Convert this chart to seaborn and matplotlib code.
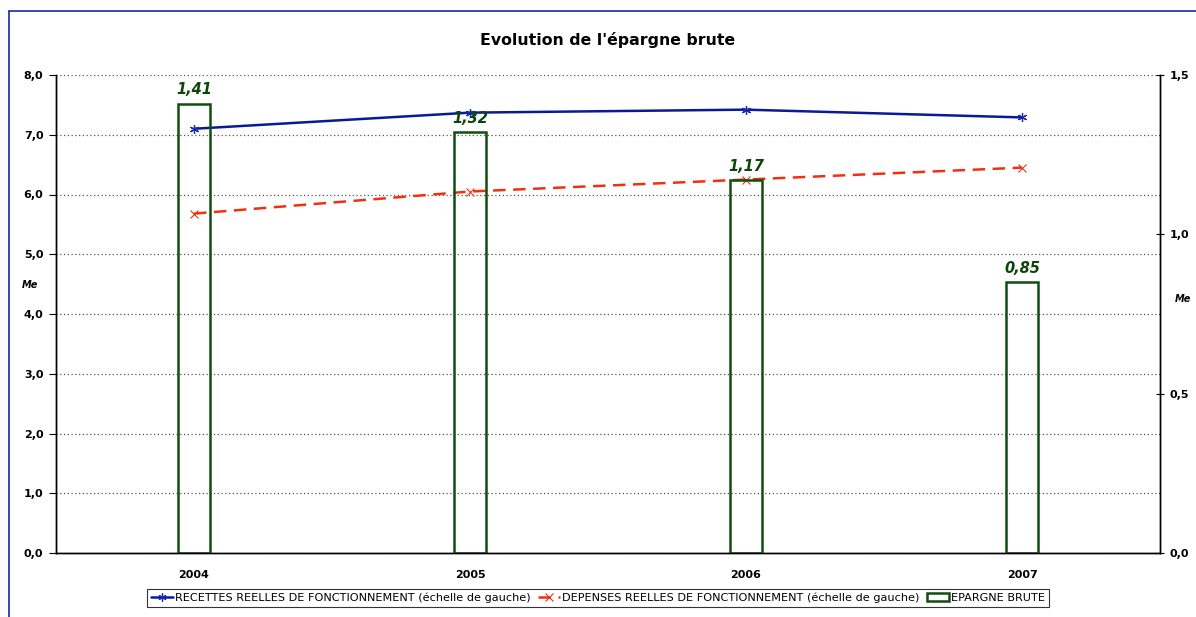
import numpy as np
import pandas as pd
import matplotlib
matplotlib.use("Agg")
import matplotlib.pyplot as plt
from matplotlib.lines import Line2D
from matplotlib.ticker import FuncFormatter, FixedLocator
import seaborn as sns

years = ["2004", "2005", "2006", "2007"]
recettes = [7.10, 7.37, 7.42, 7.29]
depenses = [5.68, 6.05, 6.25, 6.45]
epargne = [1.41, 1.32, 1.17, 0.85]
epargne_labels = ["1,41", "1,32", "1,17", "0,85"]

lab_rec = "RECETTES REELLES DE FONCTIONNEMENT (échelle de gauche)"
lab_dep = "DEPENSES REELLES DE FONCTIONNEMENT (échelle de gauche)"
lab_ep = "EPARGNE BRUTE"

sns.set_theme(style="white")
plt.rcParams['font.family'] = ['DejaVu Sans']
plt.rcParams['text.color'] = 'black'
plt.rcParams['axes.labelcolor'] = 'black'
plt.rcParams['xtick.color'] = 'black'
plt.rcParams['ytick.color'] = 'black'

W, H = 1196, 617
fig = plt.figure(figsize=(W / 100, H / 100), dpi=100)
ax = fig.add_axes([56 / W, 1 - 553 / H, (1160 - 56) / W, (553 - 75) / H])
ax2 = ax.twinx()

pos = np.arange(len(years))
df = pd.DataFrame({"pos": pos, "year": years, "rec": recettes, "dep": depenses, "ep": epargne})

# lines on left axis
sns.lineplot(data=df, x="pos", y="rec", ax=ax, color="#0A1A96", linewidth=1.8,
             marker=(6, 2, 0), markersize=6.5, markeredgecolor="#1A2AB0",
             markeredgewidth=0.9, label=lab_rec, zorder=5)
sns.lineplot(data=df, x="pos", y="dep", ax=ax, color="#F03010", linewidth=1.8,
             marker="x", markersize=6, markeredgecolor="#F03010",
             markeredgewidth=0.8, label=lab_dep, zorder=5)
ax.lines[1].set_linestyle((0, (5, 3)))

# bars on right axis
sns.barplot(data=df, x="year", y="ep", ax=ax2, width=0.115, fill=False,
            color="#0F4F10", linewidth=1.8, label=lab_ep)
for p, v, t in zip(pos, epargne, epargne_labels):
    ax2.text(p, v + 0.02, t, ha="center", va="bottom", color="#0B450B",
             fontsize=10.5, fontweight="bold", fontstyle="italic")

ax.set_xlim(-0.5, 3.5)
ax2.set_xlim(-0.5, 3.5)
ax.set_ylim(0, 8)
ax2.set_ylim(0, 1.5)

comma1 = FuncFormatter(lambda v, p: f"{v:.1f}".replace(".", ","))
ax.yaxis.set_major_locator(FixedLocator(np.arange(0, 8.01, 1)))
ax.yaxis.set_major_formatter(comma1)
ax2.yaxis.set_major_locator(FixedLocator([0, 0.5, 1.0, 1.5]))
ax2.yaxis.set_major_formatter(comma1)

ax.set_xticks(pos)
ax.set_xticklabels(years)
ax.set_xticks([0.5, 1.5, 2.5], minor=True)
ax.tick_params(axis="x", which="major", length=0, pad=12, labelsize=8)
ax.tick_params(axis="x", which="minor", length=6, direction="inout", width=0.8, color="black")
for lbl in ax.get_xticklabels():
    lbl.set_fontweight("bold")
ax2.set_xlabel("")
ax2.tick_params(axis="x", which="both", length=0, labelbottom=False)

ax.tick_params(axis="y", which="major", left=True, length=5, direction="out",
               width=0.8, color="black", labelsize=8, pad=4)
ax2.tick_params(axis="y", which="major", right=True, length=6, direction="inout",
                width=0.8, color="black", labelsize=8, pad=4)
for lbl in ax.get_yticklabels() + ax2.get_yticklabels():
    lbl.set_fontweight("bold")

ax.set_xlabel("")
ax.set_ylabel("")
ax2.set_ylabel("")

ax.yaxis.grid(True, linestyle=(0, (1, 2)), color="#555555", linewidth=0.9)
ax.set_axisbelow(True)
ax2.grid(False)

for a in (ax, ax2):
    a.spines["top"].set_visible(False)
    for s in ("left", "right", "bottom"):
        a.spines[s].set_color("black")
        a.spines[s].set_linewidth(1.0)

# unit labels
fig.text(30 / W, 1 - 285 / H, "Me", ha="center", va="center", fontsize=7,
         fontweight="bold", fontstyle="italic")
fig.text(1183 / W, 1 - 299 / H, "Me", ha="center", va="center", fontsize=7,
         fontweight="bold", fontstyle="italic")

# title
fig.text(608 / W, 1 - 40 / H, "Evolution de l'épargne brute", ha="center", va="center",
         fontsize=11.3, fontweight="bold")

# legend
h1, l1 = ax.get_legend_handles_labels()
h2, l2 = ax2.get_legend_handles_labels()
for a in (ax, ax2):
    if a.get_legend() is not None:
        a.get_legend().remove()
leg = fig.legend(h1 + h2, l1 + l2, loc="center", bbox_to_anchor=(598 / W, 1 - 598 / H),
                 ncol=3, frameon=True, fancybox=False, edgecolor="black",
                 fontsize=8.1, handlelength=2.0, handletextpad=0.2, columnspacing=0.6,
                 borderpad=0.3, borderaxespad=0, markerscale=0.9)
leg.get_frame().set_linewidth(0.8)

# outer border (top and left)
fig.add_artist(Line2D([9 / W, 1.0], [1 - 11 / H, 1 - 11 / H], color="#1A2A9A", linewidth=1.2))
fig.add_artist(Line2D([9 / W, 9 / W], [0, 1 - 11 / H], color="#1A2A9A", linewidth=1.2))

fig.savefig("out.png", dpi=100)
